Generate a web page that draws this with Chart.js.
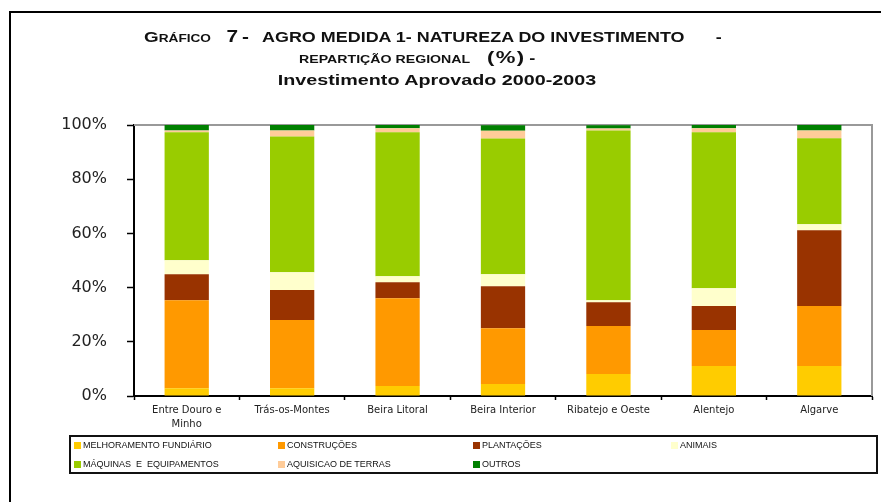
<!DOCTYPE html>
<html>
<head>
<meta charset="utf-8">
<script src="https://cdn.jsdelivr.net/npm/chart.js@4/dist/chart.umd.min.js"></script>
<style>
  html, body { margin:0; padding:0; background:#fff; }
  body { width:881px; height:502px; overflow:hidden; position:relative; font-family:"Liberation Sans", Arial, sans-serif; }
  #frame { position:absolute; left:9px; top:11px; width:900px; height:520px; border:2px solid #000; box-sizing:border-box; }
  #chart { position:absolute; left:0; top:0; }
  .tline { position:absolute; font-weight:bold; color:#111; white-space:pre; transform:scaleX(1.3); transform-origin:0 50%; }
  .tline span { display:inline-block; }
  .tc { left:0; width:874px; text-align:center; transform-origin:437px 50%; }
  #legend { position:absolute; left:69px; top:435px; width:809px; height:39px; border:2px solid #111; box-sizing:border-box; }
  .li { position:absolute; font-size:9px; color:#111; white-space:pre; line-height:10px; }
  .sw { position:absolute; width:7px; height:7px; }
</style>
</head>
<body>
<div id="frame"></div>
<canvas id="chart" width="881" height="502"></canvas>
<div class="tline" style="left:144px;top:28px;height:18px;line-height:18px;"><span style="font-size:14.5px">G</span><span style="font-size:10.5px">RÁFICO</span><span style="font-size:16px;margin-left:12px">7</span><span style="font-size:16px;margin-left:3px">-</span><span style="font-size:13.8px;margin-left:10px">AGRO MEDIDA 1- NATUREZA DO INVESTIMENTO</span><span style="font-size:13.8px;margin-left:24px">-</span></div>
<div class="tline" style="left:299px;top:48px;height:20px;line-height:20px;"><span style="font-size:10.9px">REPARTIÇÃO REGIONAL</span><span style="font-size:17px;margin-left:13px;letter-spacing:1px">(%)</span><span style="font-size:14px;margin-left:3px">-</span></div>
<div class="tline tc" style="top:71px;height:18px;line-height:18px;font-size:15.2px;">Investimento Aprovado 2000-2003</div>
<div id="legend"></div>
<script>
// ---- Data ----
const categories = [['Entre Douro e', 'Minho'], 'Trás-os-Montes', 'Beira Litoral', 'Beira Interior', 'Ribatejo e Oeste', 'Alentejo', 'Algarve'];
const seriesNames = ['MELHORAMENTO FUNDIÁRIO', 'CONSTRUÇÕES', 'PLANTAÇÕES', 'ANIMAIS', 'MÁQUINAS  E  EQUIPAMENTOS', 'AQUISICAO DE TERRAS', 'OUTROS'];
const melhoramento = [2.9, 2.9, 3.7, 4.4, 8.1, 11.1, 11.1];
const construcoes  = [32.4, 25.1, 32.4, 20.6, 17.7, 13.3, 22.1];
const plantacoes   = [9.6, 11.1, 5.9, 15.5, 8.8, 8.8, 28.0];
const animais      = [5.2, 6.6, 2.2, 4.4, 0.7, 6.6, 2.2];
const maquinas     = [47.2, 50.1, 53.1, 50.1, 62.7, 57.5, 31.7];
const aquisicao    = [0.7, 2.2, 1.5, 2.9, 0.7, 1.5, 2.9];
const outros       = [2.0, 2.0, 1.2, 2.0, 1.2, 1.2, 2.0];
const yTickValues  = [0, 20, 40, 60, 80, 100];

const colors = ['#FFCC00', '#FF9900', '#993300', '#FFFFCC', '#99CC00', '#FFCC99', '#008000'];
const seriesValues = [melhoramento, construcoes, plantacoes, animais, maquinas, aquisicao, outros];

const datasets = seriesNames.map((n, i) => ({
  label: n,
  data: seriesValues[i],
  backgroundColor: colors[i],
  borderWidth: 0,
  barPercentage: 0.42,
  categoryPercentage: 1.0
}));

const plotFrame = {
  id: 'plotFrame',
  beforeDatasetsDraw(chart) {
    const { ctx, chartArea: a } = chart;
    ctx.save();
    ctx.strokeStyle = '#999';
    ctx.lineWidth = 2;
    ctx.beginPath();
    ctx.moveTo(a.left, a.top);
    ctx.lineTo(a.right, a.top);
    ctx.lineTo(a.right, a.bottom);
    ctx.stroke();
    ctx.restore();
  }
};

const chart = new Chart(document.getElementById('chart'), {
  type: 'bar',
  data: { labels: categories, datasets },
  plugins: [plotFrame],
  options: {
    responsive: false,
    animation: false,
    devicePixelRatio: 1,
    layout: { padding: { left: 0, right: 9, top: 125, bottom: 0 } },
    plugins: { legend: { display: false }, title: { display: false }, tooltip: { enabled: false } },
    scales: {
      x: {
        stacked: true,
        z: 1,
        afterFit(s) { s.height = 106; },
        border: { color: '#000', width: 2 },
        grid: { offset: true, drawOnChartArea: false, drawTicks: true, tickLength: 4, tickColor: '#000', tickWidth: 1.5 },
        ticks: { color: '#222', padding: 3, font: { family: 'DejaVu Sans', size: 10, lineHeight: 1.4 }, maxRotation: 0, autoSkip: false }
      },
      y: {
        stacked: true,
        min: 0, max: 100,
        afterFit(s) { s.width = 134; },
        afterBuildTicks(s) { s.ticks = yTickValues.map(v => ({ value: v })); },
        border: { color: '#000', width: 2 },
        grid: { drawOnChartArea: false, drawTicks: true, tickLength: 7, tickColor: '#000', tickWidth: 1.5 },
        ticks: { color: '#222', padding: 20, font: { family: 'DejaVu Sans', size: 16 }, callback: v => v + '%' }
      }
    }
  }
});

// HTML legend built from the chart's datasets
const leg = document.getElementById('legend');
const colX = [3, 207, 402, 600];
chart.data.datasets.forEach((ds, i) => {
  const col = i < 4 ? i : i - 4;
  const row = i < 4 ? 0 : 1;
  const sw = document.createElement('div');
  sw.className = 'sw';
  sw.style.left = colX[col] + 'px';
  sw.style.top = (row === 0 ? 5 : 24) + 'px';
  sw.style.background = ds.backgroundColor;
  leg.appendChild(sw);
  const t = document.createElement('div');
  t.className = 'li';
  t.style.left = (colX[col] + 9) + 'px';
  t.style.top = (row === 0 ? 3 : 22) + 'px';
  t.textContent = ds.label;
  leg.appendChild(t);
});
</script>
</body>
</html>
